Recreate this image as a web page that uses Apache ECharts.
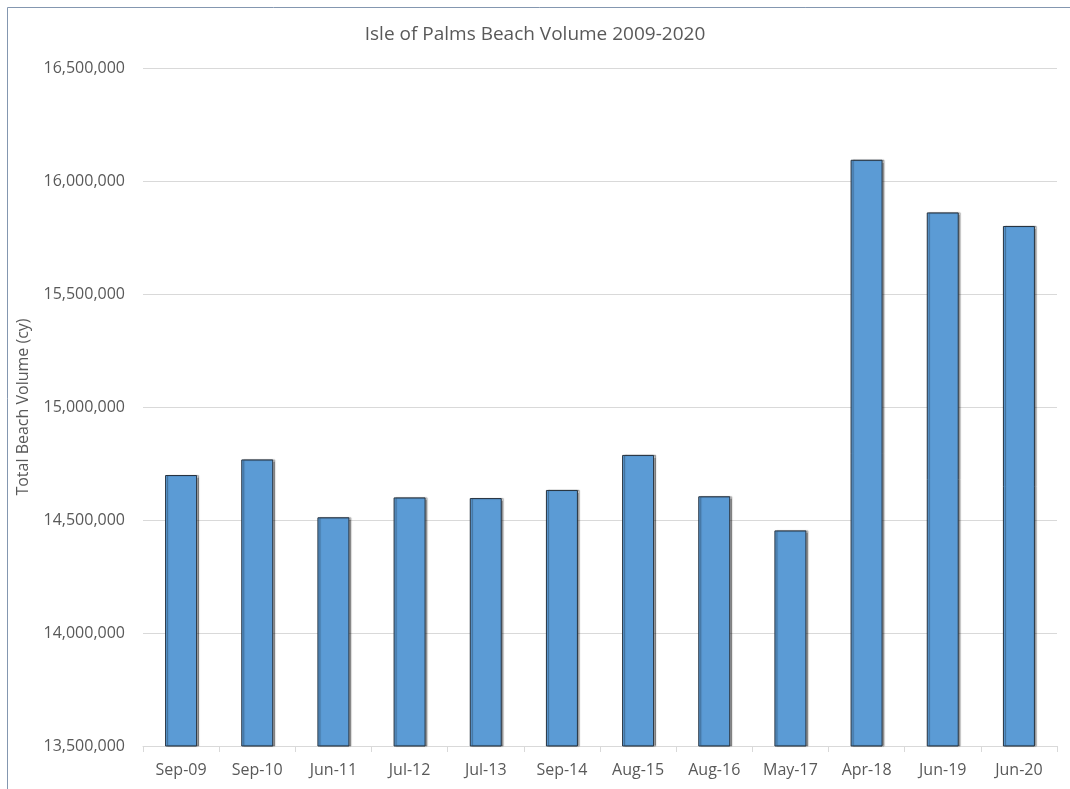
<!DOCTYPE html>
<html>
<head>
<meta charset="utf-8">
<script src="https://cdn.jsdelivr.net/npm/echarts@6/dist/echarts.min.js"></script>
<style>
html, body { margin: 0; padding: 0; background: #fff; }
#mycharts { width: 1070px; height: 789px; }
</style>
</head>
<body>
<div id="mycharts"></div>
<script>
var categories = ['Sep-09', 'Sep-10', 'Jun-11', 'Jul-12', 'Jul-13', 'Sep-14', 'Aug-15', 'Aug-16', 'May-17', 'Apr-18', 'Jun-19', 'Jun-20'];
var volumes = [14699000, 14768000, 14512000, 14600000, 14597000, 14633000, 14788000, 14605000, 14454000, 16094000, 15861000, 15801000];
var yMin = 13500000;
var yMax = 16500000;
var yStep = 500000;

var myChart = echarts.init(document.getElementById('mycharts'));
var font = '"Open Sans", "Liberation Sans", sans-serif';

var option = {
    backgroundColor: '#fff',
    animation: false,
    title: {
        text: 'Isle of Palms Beach Volume 2009-2020',
        left: 'center',
        top: 20,
        textStyle: { fontFamily: font, fontSize: 19, fontWeight: 'normal', color: '#595959' }
    },
    graphic: [{
        type: 'rect',
        shape: { x: 7.5, y: 7.5, width: 1070, height: 800 },
        style: { fill: 'none', stroke: '#8497b0', lineWidth: 1 },
        silent: true
    }],
    grid: { left: 143, right: 13, top: 68, bottom: 43 },
    xAxis: {
        type: 'category',
        data: categories,
        axisLine: { lineStyle: { color: '#d9d9d9' } },
        axisTick: { show: true, alignWithLabel: false, length: 6, lineStyle: { color: '#d9d9d9' } },
        axisLabel: { fontFamily: font, fontSize: 16, color: '#595959', margin: 16 }
    },
    yAxis: {
        type: 'value',
        min: yMin,
        max: yMax,
        interval: yStep,
        name: 'Total Beach Volume (cy)',
        nameLocation: 'middle',
        nameGap: 112,
        nameRotate: 90,
        nameTextStyle: { fontFamily: font, fontSize: 16, color: '#595959' },
        axisLine: { show: false },
        axisTick: { show: false },
        axisLabel: {
            fontFamily: font, fontSize: 16, color: '#595959', margin: 18,
            formatter: function (v) { return v.toLocaleString('en-US'); }
        },
        splitLine: { lineStyle: { color: '#d9d9d9' } }
    },
    series: [{
        name: 'Total Beach Volume',
        type: 'bar',
        data: volumes,
        barWidth: '42%',
        itemStyle: {
            color: '#5b9bd5',
            borderColor: '#26323f',
            borderWidth: 1,
            shadowColor: 'rgba(0,0,0,0.35)',
            shadowOffsetX: 2,
            shadowOffsetY: 0,
            shadowBlur: 1
        }
    }]
};

myChart.setOption(option);
</script>
</body>
</html>
